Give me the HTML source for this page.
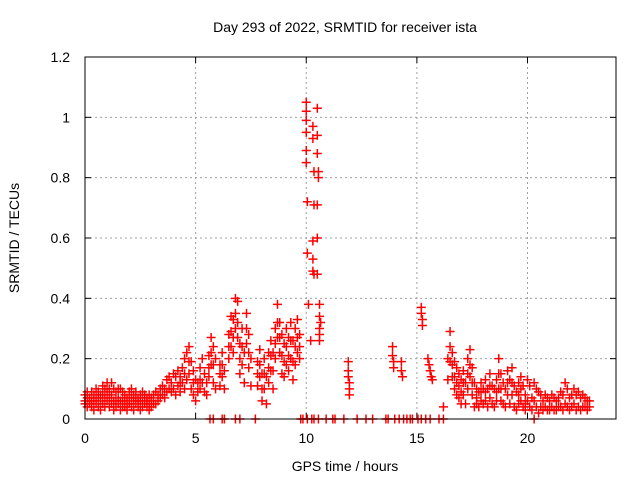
<!DOCTYPE html>
<html><head><meta charset="utf-8"><style>
html,body{margin:0;padding:0;background:#fff;}
svg{display:block;font-family:"Liberation Sans",sans-serif;}
</style></head><body>
<svg id="chart" width="640" height="480" xmlns="http://www.w3.org/2000/svg">
<text x="345" y="32" text-anchor="middle" font-size="14">Day 293 of 2022, SRMTID for receiver ista</text>
<text x="345" y="471" text-anchor="middle" font-size="14">GPS time / hours</text>
<text transform="translate(19,238) rotate(-90)" text-anchor="middle" font-size="14">SRMTID / TECUs</text>
<g id="grid"></g>
<g id="ticks"></g>
<g id="marks"></g>
<rect x="85" y="57" width="531" height="362" fill="none" stroke="#000" stroke-width="1"/>
</svg>
<script>
const xTicks=[0,5,10,15,20];
const yTicks=[0,0.2,0.4,0.6,0.8,1,1.2];
const yTickLabels=["0","0.2","0.4","0.6","0.8","1","1.2"];
const ptsNight=[[0,.08],[0,.05],[0,.06],[.1,.09],[.1,.04],[.1,.07],[.2,.07],[.2,.05],[.2,.06],[.3,.09],[.3,.04],[.3,.06],[.4,.08],[.4,.03],[.4,.06],[.5,.1],[.5,.05],[.5,.07],[.6,.09],[.6,.04],[.6,.07],[.7,.08],[.7,.03],[.7,.06],[.8,.11],[.8,.05],[.8,.08],[.9,.1],[.9,.04],[.9,.07],[1,.12],[1,.06],[1,.09],[1.1,.1],[1.1,.04],[1.1,.07],[1.2,.12],[1.2,.05],[1.2,.08],[1.3,.1],[1.3,.03],[1.3,.06],[1.4,.09],[1.4,.04],[1.4,.06],[1.5,.1],[1.5,.05],[1.5,.07],[1.6,.1],[1.6,.03],[1.6,.06],[1.7,.09],[1.7,.04],[1.7,.06],[1.8,.08],[1.8,.04],[1.8,.06],[1.9,.07],[1.9,.03],[1.9,.05],[2,.09],[2,.05],[2,.07],[2.1,.1],[2.1,.04],[2.1,.07],[2.2,.08],[2.2,.03],[2.2,.06],[2.3,.09],[2.3,.05],[2.3,.07],[2.4,.07],[2.4,.04],[2.4,.06],[2.5,.08],[2.5,.03],[2.5,.06],[2.6,.09],[2.6,.04],[2.6,.06],[2.7,.08],[2.7,.05],[2.7,.07],[2.8,.07],[2.8,.04],[2.8,.06],[2.9,.08],[2.9,.03],[2.9,.05],[3,.07],[3,.04],[3,.06],[3.1,.08],[3.1,.05],[3.2,.09],[3.2,.05]];
const ptsMorning=[[3.3,.08],[3.3,.06],[3.4,.1],[3.4,.07],[3.5,.11],[3.5,.08],[3.6,.1],[3.6,.07],[3.7,.13],[3.7,.09],[3.8,.14],[3.8,.1],[3.9,.12],[3.9,.09],[4,.15],[4,.1],[4.1,.14],[4.1,.08],[4.2,.16],[4.2,.11],[4.3,.14],[4.3,.09],[4.4,.17],[4.4,.12],[4.5,.2],[4.5,.1],[4.6,.22],[4.6,.13],[4.7,.24],[4.7,.15],[4.8,.19],[4.8,.1],[4.9,.16],[4.9,.08],[5,.13],[5,.06],[5.1,.12],[5.1,.09],[5.2,.17],[5.2,.1],[5.3,.2],[5.3,.12],[5.4,.15],[5.4,.09],[5.5,.12],[5.5,.08],[4.3,.12],[4.5,.15],[4.7,.19],[4.9,.12],[5.2,.13]];
const ptsDay=[[5.6,.21],[5.6,.14],[5.7,.27],[5.7,.18],[5.8,.24],[5.8,.12],[5.9,.2],[5.9,.1],[6.1,.18],[6.1,.11],[6.2,.22],[6.2,.14],[6.3,.16],[6.3,.1],[6.5,.28],[6.5,.2],[6.6,.34],[6.6,.24],[6.7,.33],[6.7,.22],[6.8,.4],[6.8,.3],[6.9,.39],[6.9,.27],[7,.25],[7,.15],[7.1,.3],[7.1,.18],[7.2,.22],[7.2,.12],[7.3,.35],[7.3,.25],[7.4,.28],[7.4,.17],[7.5,.2],[7.5,.11],[7.8,.19],[7.8,.11],[7.9,.23],[7.9,.14],[8,.15],[8,.06],[8.1,.2],[8.1,.1],[8.2,.14],[8.2,.05],[8.3,.22],[8.3,.12],[8.4,.26],[8.4,.16],[8.5,.22],[8.5,.1],[8.6,.3],[8.6,.2],[8.7,.38],[8.7,.27],[8.8,.32],[8.8,.22],[8.9,.28],[8.9,.15],[9,.25],[9,.14],[9.1,.3],[9.1,.18],[9.2,.27],[9.2,.16],[9.3,.32],[9.3,.2],[9.4,.26],[9.4,.13],[9.5,.3],[9.5,.18],[9.6,.33],[9.6,.22],[9.7,.28],[9.7,.2],
[5.6,.17],[5.7,.22],[5.8,.18],[6.1,.15],[6.2,.18],[6.5,.24],[6.6,.29],[6.7,.27],[6.8,.35],[6.9,.32],[7,.2],[7.1,.24],[7.3,.3],[7.4,.22],[7.8,.15],[7.9,.18],[8,.1],[8.1,.15],[8.3,.17],[8.4,.21],[8.5,.16],[8.6,.25],[8.7,.32],[8.8,.27],[8.9,.21],[9,.19],[9.1,.24],[9.2,.21],[9.3,.26],[9.4,.19],[9.5,.24],[9.6,.27],[9.7,.24]];
const ptsSpike=[[10,1.05],[10,1.02],[10,.99],[10,.95],[10,.89],[10,.85],[10.05,.72],[10.05,.55],[10.1,.38],[10.2,.26],[10.3,.97],[10.3,.93],[10.35,.82],[10.35,.71],[10.3,.59],[10.3,.53],[10.3,.49],[10.35,.48],[10.5,1.03],[10.5,.94],[10.5,.88],[10.55,.82],[10.55,.8],[10.5,.71],[10.5,.6],[10.5,.48],[10.6,.38],[10.6,.34],[10.65,.32],[10.6,.3],[10.6,.28],[10.6,.26]];
const ptsSparse=[[11.9,.19],[11.9,.16],[11.9,.14],[11.95,.12],[11.95,.1],[11.95,.08],[13.9,.24],[13.9,.21],[13.95,.19],[13.95,.17],[14.3,.19],[14.3,.16],[14.35,.14],[15.2,.37],[15.2,.35],[15.25,.33],[15.25,.31],[15.5,.2],[15.55,.18],[15.6,.16],[15.65,.14],[15.7,.13],[16.2,.04]];
const ptsEvening=[[16.4,.2],[16.4,.13],[16.5,.29],[16.5,.24],[16.6,.22],[16.6,.14],[16.7,.19],[16.7,.1],[16.8,.17],[16.8,.08],[16.9,.15],[16.9,.07],[17,.13],[17,.05],[17.1,.16],[17.1,.08],[17.2,.12],[17.2,.05],[17.3,.2],[17.3,.1],[17.4,.23],[17.4,.14],[17.5,.17],[17.5,.08],[17.6,.12],[17.6,.04],[17.7,.1],[17.7,.05],[17.8,.09],[17.8,.04],[17.9,.12],[17.9,.06],[18,.1],[18,.05],[18.1,.13],[18.1,.06],[18.2,.1],[18.2,.04],[18.3,.15],[18.3,.07],[18.4,.11],[18.4,.05],[18.5,.1],[18.5,.04],[18.6,.13],[18.6,.06],[18.7,.2],[18.7,.1],[18.8,.15],[18.8,.06],[18.9,.12],[18.9,.05],[19,.1],[19,.04],[19.1,.16],[19.1,.08],[19.2,.13],[19.2,.05],[19.3,.17],[19.3,.08],[19.4,.11],[19.4,.04],[19.5,.09],[19.5,.03],[19.6,.12],[19.6,.05],[19.7,.14],[19.7,.06],[19.8,.11],[19.8,.04],[19.9,.08],[19.9,.03],[20,.13],[20,.06],[20.1,.11],[20.1,.04],[20.2,.07],[20.2,.03],[20.3,.12],[20.3,.06],[20.4,.1],[20.4,.04],[20.5,.09],[20.5,.02],[20.6,.08],[20.6,.04],[20.7,.06],[20.7,.03],[20.8,.08],[20.8,.04],[20.9,.07],[20.9,.03],[21,.06],[21,.03],[21.1,.08],[21.1,.04],[21.2,.07],[21.2,.03],[21.3,.06],[21.3,.03],[21.4,.07],[21.4,.04],[21.5,.09],[21.5,.04],[21.6,.08],[21.6,.03],[21.7,.12],[21.7,.05],[21.8,.1],[21.8,.04],[21.9,.07],[21.9,.03],[22,.08],[22,.04],[22.1,.1],[22.1,.05],[22.2,.08],[22.2,.03],[22.3,.09],[22.3,.04],[22.4,.07],[22.4,.03],[22.5,.08],[22.5,.04],[22.6,.07],[22.6,.04],[22.7,.06],[22.7,.03],[22.8,.06],[22.8,.04],
[16.5,.19],[16.6,.18],[16.7,.14],[16.8,.12],[16.9,.11],[17,.09],[17.1,.12],[17.3,.15],[17.4,.18],[17.5,.12],[17.7,.07],[17.9,.09],[18.1,.09],[18.3,.11],[18.6,.09],[18.7,.15],[18.8,.1],[19.1,.12],[19.3,.12],[19.6,.08],[19.7,.1],[19.9,.05]];
const zeroHours=[5.65,5.8,6.2,6.3,6.8,7.0,7.7,9.75,9.85,10.05,10.25,10.35,10.55,10.9,11.2,11.3,11.7,12.3,12.7,13.0,13.6,13.7,14.0,14.2,14.4,14.55,14.7,14.8,15.05,15.2,15.4,15.6,16.0,16.2,20.3];

const X0=85,X1=616,Y0=419,Y1=57,XMAX=24,YMAX=1.2;
function xs(h){return X0+(X1-X0)*h/XMAX;}
function ys(v){return Y0-(Y0-Y1)*v/YMAX;}
const NS="http://www.w3.org/2000/svg";
function mk(tag,attrs,parent){const e=document.createElementNS(NS,tag);for(const k in attrs)e.setAttribute(k,attrs[k]);parent.appendChild(e);return e;}
const grid=document.getElementById('grid'),ticks=document.getElementById('ticks'),marks=document.getElementById('marks');
xTicks.forEach(t=>{
  const x=xs(t);
  if(t>0){const g=mk('line',{x1:x,x2:x,y1:Y1,y2:Y0,stroke:'#a0a0a0','stroke-dasharray':'2,3'},grid);
  
  }
  mk('line',{x1:x,x2:x,y1:Y0,y2:Y0-6,stroke:'#000'},ticks);
  mk('line',{x1:x,x2:x,y1:Y1,y2:Y1+6,stroke:'#000'},ticks);
  const l=mk('text',{x:x,y:Y0+24,'text-anchor':'middle','font-size':'14'},ticks);
  l.textContent=String(t);
  
  
});
yTicks.forEach((t,i)=>{
  const y=ys(t);
  if(t>0&&t<YMAX){const g=mk('line',{x1:X0,x2:X1,y1:y,y2:y,stroke:'#a0a0a0','stroke-dasharray':'2,3'},grid);
  
  }
  mk('line',{x1:X0,x2:X0+6,y1:y,y2:y,stroke:'#000'},ticks);
  mk('line',{x1:X1,x2:X1-6,y1:y,y2:y,stroke:'#000'},ticks);
  const l=mk('text',{x:X0-15,y:y+5,'text-anchor':'end','font-size':'14'},ticks);
  l.textContent=yTickLabels[i];
  
  
});
function plus(h,v){
  const x=xs(h),y=ys(v);
  const p=mk('path',{d:`M${x-4.5},${y}H${x+4.5}M${x},${y-4.5}V${y+4.5}`,stroke:'#ff0000','stroke-width':'1.5',fill:'none'},marks);
  
  
}
[ptsNight,ptsMorning,ptsDay,ptsSpike,ptsSparse,ptsEvening].forEach(arr=>arr.forEach(p=>plus(p[0],p[1])));
zeroHours.forEach(h=>plus(h,0));
</script>
</body></html>
